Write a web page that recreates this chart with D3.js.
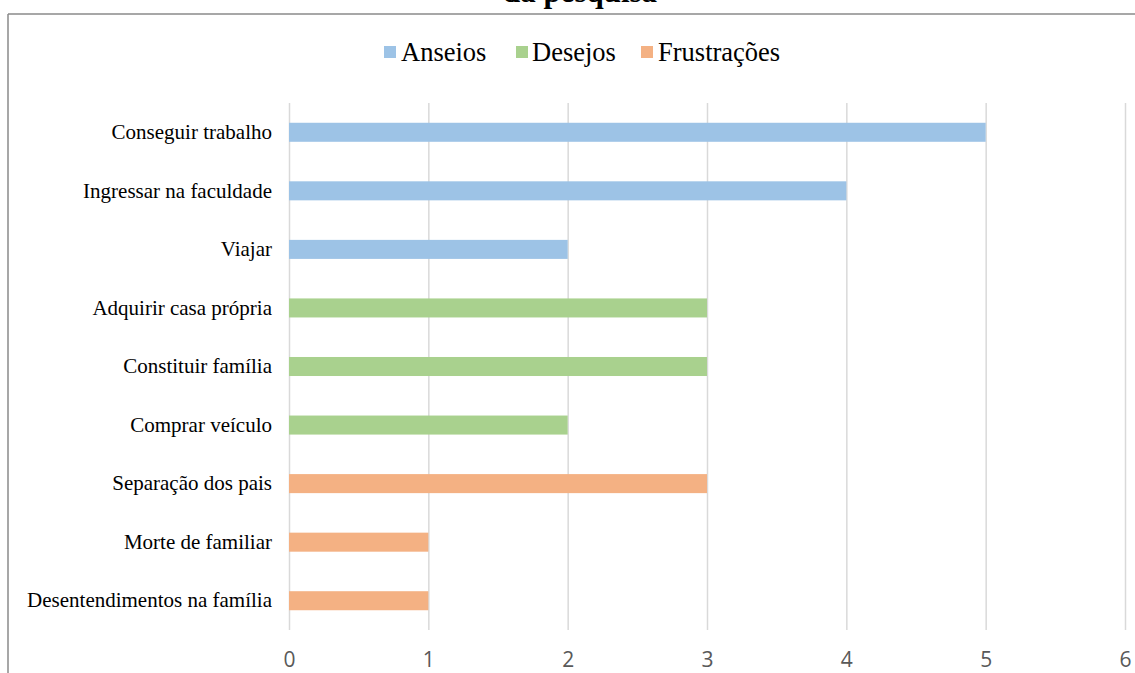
<!DOCTYPE html>
<html>
<head>
<meta charset="utf-8">
<script src="https://cdn.jsdelivr.net/npm/d3@7"></script>
<style>
  html, body { margin: 0; padding: 0; background: #fff; }
  svg { display: block; }
</style>
</head>
<body>
<svg id="chart" width="1135" height="673"></svg>
<script>
const categories = [
  "Conseguir trabalho",
  "Ingressar na faculdade",
  "Viajar",
  "Adquirir casa própria",
  "Constituir família",
  "Comprar veículo",
  "Separação dos pais",
  "Morte de familiar",
  "Desentendimentos na família"
];
const values = [5, 4, 2, 3, 3, 2, 3, 1, 1];
const groups = ["Anseios", "Anseios", "Anseios", "Desejos", "Desejos", "Desejos", "Frustrações", "Frustrações", "Frustrações"];
const seriesNames = ["Anseios", "Desejos", "Frustrações"];
const seriesColors = ["#9dc3e6", "#a9d18e", "#f4b183"];
const xTicks = [0, 1, 2, 3, 4, 5, 6];
const titleText = "da pesquisa";

const svg = d3.select("#chart");
const serif = "'Liberation Serif', 'Times New Roman', serif";
const sans = "'Open Sans', 'Liberation Sans', sans-serif";

const plot = { left: 289, right: 1125, top: 103, bottom: 630 };

const x = d3.scaleLinear().domain([0, 6]).range([plot.left, plot.right]);
const y = d3.scaleBand().domain(categories).range([plot.top, plot.bottom])
  .paddingInner(0.675).paddingOuter(0.3375);
const color = d3.scaleOrdinal().domain(seriesNames).range(seriesColors);

// chart border (top and left visible)
svg.append("line").attr("x1", 8).attr("x2", 1135).attr("y1", 14).attr("y2", 14)
  .attr("stroke", "#8a8a8a").attr("stroke-width", 1.5);
svg.append("line").attr("x1", 8).attr("x2", 8).attr("y1", 14).attr("y2", 673)
  .attr("stroke", "#8a8a8a").attr("stroke-width", 1.5);

// title (cut at top, as in the reference)
svg.append("text").attr("x", 580).attr("y", 2)
  .attr("text-anchor", "middle")
  .attr("font-family", serif).attr("font-weight", "bold").attr("font-size", 31)
  .attr("fill", "#000").text(titleText);

// gridlines + value axis
const xAxis = d3.axisBottom(x).tickValues(xTicks).tickSize(-(plot.bottom - plot.top)).tickPadding(0).tickFormat(d3.format("d"));
const gx = svg.append("g").attr("transform", `translate(0,${plot.bottom})`).call(xAxis);
gx.select(".domain").remove();
gx.selectAll(".tick line").attr("stroke", "#d9d9d9").attr("stroke-width", 1.5);
gx.selectAll(".tick text")
  .attr("y", 37).attr("dy", 0)
  .attr("font-family", sans).attr("font-size", 21).attr("fill", "#595959");

// bars
svg.append("g").selectAll("rect").data(categories).join("rect")
  .attr("x", x(0))
  .attr("y", d => y(d))
  .attr("width", (d, i) => x(values[i]) - x(0))
  .attr("height", y.bandwidth())
  .attr("fill", (d, i) => color(groups[i]));

// category axis
const yAxis = d3.axisLeft(y).tickSize(0).tickPadding(17);
const gy = svg.append("g").attr("transform", `translate(${plot.left},0)`).call(yAxis);
gy.select(".domain").remove();
gy.selectAll(".tick text")
  .attr("font-family", serif).attr("font-size", 21).attr("fill", "#000").attr("dy", "0.32em");

// legend
const legendItems = [
  { name: seriesNames[0], sx: 384, tx: 401 },
  { name: seriesNames[1], sx: 516, tx: 532 },
  { name: seriesNames[2], sx: 641, tx: 658 }
];
const lg = svg.append("g");
legendItems.forEach(it => {
  lg.append("rect").attr("x", it.sx).attr("y", 46).attr("width", 12).attr("height", 12)
    .attr("fill", color(it.name));
  lg.append("text").attr("x", it.tx).attr("y", 61)
    .attr("font-family", serif).attr("font-size", 26.5).attr("fill", "#000").text(it.name);
});
</script>
</body>
</html>
